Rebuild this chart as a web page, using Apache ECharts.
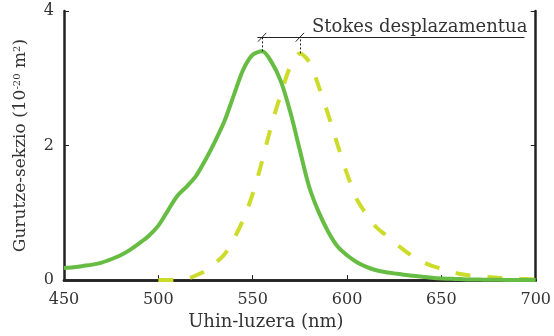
<!DOCTYPE html>
<html>
<head>
<meta charset="utf-8">
<script src="https://cdn.jsdelivr.net/npm/echarts@6/dist/echarts.min.js"></script>
<style>
  html, body { margin: 0; padding: 0; background: #fff; }
  #chart { width: 554px; height: 336px; }
</style>
</head>
<body>
<div id="chart"></div>
<script>
// absorption (solid) and emission (dashed) spectra, read every 5 nm
const absNm = [450, 455, 460, 465, 470, 475, 480, 485, 490, 495, 500, 505, 510, 515, 520, 525, 530, 535, 540, 545, 550, 555, 560, 565, 570, 575, 580, 585, 590, 595, 600, 605, 610, 615, 620, 625, 630, 635, 640, 645, 650, 655, 660, 665, 670, 675, 680, 690, 700];
const absVal = [0.18, 0.19, 0.21, 0.23, 0.26, 0.31, 0.37, 0.45, 0.55, 0.66, 0.81, 1.03, 1.25, 1.39, 1.55, 1.79, 2.06, 2.36, 2.75, 3.13, 3.35, 3.40, 3.24, 2.95, 2.49, 1.93, 1.38, 1.01, 0.72, 0.50, 0.37, 0.27, 0.20, 0.15, 0.12, 0.10, 0.08, 0.065, 0.05, 0.035, 0.025, 0.02, 0.015, 0.01, 0.008, 0.005, 0.004, 0.002, 0];
const emNm = [500, 505, 510, 515, 520, 525, 530, 535, 540, 545, 550, 555, 560, 565, 570, 575, 580, 585, 590, 595, 600, 605, 610, 615, 620, 625, 630, 635, 640, 645, 650, 655, 660, 665, 670, 675, 680, 685, 690, 695, 700];
const emVal = [0, 0, 0, 0.015, 0.07, 0.14, 0.25, 0.38, 0.61, 0.90, 1.28, 1.77, 2.31, 2.77, 3.18, 3.37, 3.24, 2.88, 2.46, 2.01, 1.58, 1.21, 0.99, 0.80, 0.68, 0.56, 0.45, 0.35, 0.27, 0.21, 0.17, 0.13, 0.09, 0.07, 0.055, 0.045, 0.035, 0.028, 0.02, 0.015, 0.01];
const absPeak = [555, 3.40];
const emPeak = [575, 3.37];
const stokesY = 3.61;
const stokesStart = 552.5;
const stokesEnd = 694;
const stokesLabel = "Stokes desplazamentua";

const font = "'DejaVu Serif', serif";
const axisColor = "#222";
const textColor = "#333";

const chart = echarts.init(document.getElementById("chart"));

const toPairs = (xs, ys) => xs.map((x, i) => [x, ys[i]]);

// small slanted tick on the Stokes line
const slash = (x) => [
  { coord: [x - 2.2, stokesY - 0.065] },
  { coord: [x + 2.2, stokesY + 0.065] },
];

const option = {
  animation: false,
  grid: { left: 64, right: 13, top: 11, bottom: 54 },
  xAxis: [
    {
      type: "value",
      min: 450,
      max: 700,
      interval: 50,
      name: "Uhin-luzera (nm)",
      nameLocation: "middle",
      nameGap: 31,
      nameTextStyle: { fontFamily: font, fontSize: 18, color: textColor, padding: [0, 68, 0, 0] },
      axisLine: { show: true, lineStyle: { color: axisColor, width: 2.5 } },
      axisTick: { show: true, inside: true, length: 5, lineStyle: { color: axisColor } },
      axisLabel: { fontFamily: font, fontSize: 16, color: textColor, margin: 12 },
      splitLine: { show: false },
    },
    {
      type: "value",
      position: "top",
      min: 450,
      max: 700,
      axisLine: { show: true, lineStyle: { color: axisColor, width: 2.5 } },
      axisTick: { show: false },
      axisLabel: { show: false },
      splitLine: { show: false },
    },
  ],
  yAxis: [
    {
      type: "value",
      min: 0,
      max: 4,
      interval: 2,
      name: "Gurutze-sekzio (10{sup|-20} m{sup|2})",
      nameLocation: "middle",
      nameGap: 35,
      nameTextStyle: {
        fontFamily: font,
        fontSize: 17,
        color: textColor,
        rich: { sup: { fontFamily: font, fontSize: 10, color: textColor, verticalAlign: "top", padding: [0, 0, 7, 0] } },
      },
      axisLine: { show: true, lineStyle: { color: axisColor, width: 2.5 } },
      axisTick: { show: true, inside: true, length: 5, lineStyle: { color: axisColor } },
      axisLabel: { fontFamily: font, fontSize: 16, color: textColor, margin: 10 },
      splitLine: { show: false },
    },
    {
      type: "value",
      position: "right",
      min: 0,
      max: 4,
      interval: 2,
      axisLine: { show: true, lineStyle: { color: axisColor, width: 2.5 } },
      axisTick: { show: true, inside: true, length: 5, lineStyle: { color: axisColor } },
      axisLabel: { show: false },
      splitLine: { show: false },
    },
  ],
  series: [
    {
      type: "line",
      data: toPairs(emNm, emVal),
      smooth: 0.3,
      showSymbol: false,
      lineStyle: { color: "#cddc2a", width: 4, type: [15, 17] },
      z: 2,
    },
    {
      type: "line",
      data: toPairs(absNm, absVal),
      smooth: 0.3,
      showSymbol: false,
      lineStyle: { color: "#67bd43", width: 4 },
      z: 3,
      markLine: {
        silent: true,
        symbol: ["none", "none"],
        animation: false,
        lineStyle: { color: "#222", width: 1, type: "solid" },
        label: { show: false },
        data: [
          [
            { coord: [stokesStart, stokesY] },
            {
              coord: [stokesEnd, stokesY],
              label: {
                show: true,
                position: "insideEndTop",
                formatter: stokesLabel,
                fontFamily: font,
                fontSize: 18,
                color: textColor,
                distance: [-3, 1],
              },
            },
          ],
          [
            { coord: [absPeak[0], absPeak[1]], lineStyle: { type: [2, 2] } },
            { coord: [absPeak[0], stokesY] },
          ],
          [
            { coord: [emPeak[0], emPeak[1]], lineStyle: { type: [2, 2] } },
            { coord: [emPeak[0], stokesY] },
          ],
          slash(absPeak[0]),
          slash(emPeak[0]),
        ],
      },
    },
  ],
};

chart.setOption(option);
</script>
</body>
</html>
